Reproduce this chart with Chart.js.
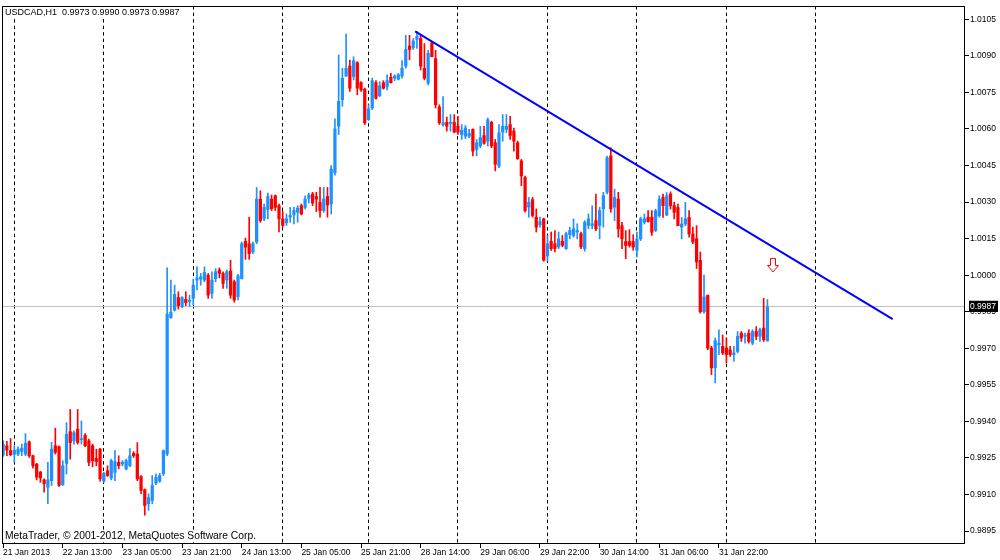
<!DOCTYPE html>
<html>
<head>
<meta charset="utf-8">
<title>USDCAD,H1</title>
<script src="https://cdn.jsdelivr.net/npm/chart.js@4.4.1/dist/chart.umd.min.js"></script>
<style>
  html, body { margin: 0; padding: 0; background: #fff; }
  #wrap { width: 1000px; height: 560px; }
</style>
</head>
<body>
<div id="wrap"><canvas id="chart" width="1000" height="560"></canvas></div>
<script>
const symbol = 'USDCAD';
const period = 'H1';

// hourly bars, bar 0 = 21 Jan 2013 21:00
const opens = [
  0.99262, 0.99300, 0.99280, 0.99265, 0.99266, 0.99277, 0.99266, 0.99316, 0.99259, 0.99225,
  0.99192, 0.99160, 0.99130, 0.99157, 0.99300, 0.99296, 0.99140, 0.99228, 0.99358, 0.99320,
  0.99368, 0.99325, 0.99343, 0.99320, 0.99300, 0.99248, 0.99286, 0.99155, 0.99198, 0.99168,
  0.99191, 0.99232, 0.99225, 0.99205, 0.99218, 0.99269, 0.99266, 0.99174, 0.99120, 0.99062,
  0.99076, 0.99147, 0.99155, 0.99185, 0.99266, 0.99826, 0.99857, 0.99908, 0.99871, 0.99901,
  0.99892, 0.99905, 0.99980, 0.99984, 0.99980, 1.00000, 0.99925, 0.99986, 1.00021, 1.00007,
  0.99980, 1.00017, 0.99973, 0.99912, 0.99986, 1.00139, 1.00129, 1.00095, 1.00136, 1.00312,
  1.00231, 1.00269, 1.00312, 1.00326, 1.00285, 1.00231, 1.00215, 1.00238, 1.00247, 1.00258,
  1.00285, 1.00278, 1.00315, 1.00333, 1.00323, 1.00299, 1.00265, 1.00323, 1.00292, 1.00420,
  1.00611, 1.00720, 1.00817, 1.00858, 1.00815, 1.00872, 1.00790, 1.00763, 1.00638, 1.00686,
  1.00790, 1.00736, 1.00790, 1.00774, 1.00812, 1.00808, 1.00804, 1.00817, 1.00858, 1.00940,
  1.00934, 1.00967, 1.00971, 1.00849, 1.00788, 1.00953, 1.00889, 1.00690, 1.00618, 1.00627,
  1.00622, 1.00627, 1.00611, 1.00577, 1.00570, 1.00570, 1.00598, 1.00516, 1.00530, 1.00573,
  1.00550, 1.00627, 1.00543, 1.00448, 1.00587, 1.00598, 1.00618, 1.00591, 1.00543, 1.00469,
  1.00401, 1.00279, 1.00310, 1.00238, 1.00207, 1.00231, 1.00079, 1.00139, 1.00129, 1.00116,
  1.00139, 1.00109, 1.00166, 1.00163, 1.00177, 1.00170, 1.00109, 1.00204, 1.00204, 1.00224,
  1.00204, 1.00272, 1.00340, 1.00489, 1.00279, 1.00312, 1.00203, 1.00138, 1.00138, 1.00138,
  1.00102, 1.00149, 1.00217, 1.00238, 1.00238, 1.00183, 1.00244, 1.00319, 1.00247, 1.00333,
  1.00285, 1.00278, 1.00197, 1.00210, 1.00237, 1.00169, 1.00149, 1.00061, 0.99850, 0.99918,
  0.99701, 0.99620, 0.99714, 0.99708, 0.99701, 0.99694, 0.99674, 0.99687, 0.99762, 0.99749,
  0.99762, 0.99721, 0.99769, 0.99749, 0.99783, 0.9973
];
const highs = [
  0.99320, 0.99318, 0.99330, 0.99300, 0.99296, 0.99307, 0.99350, 0.99320, 0.99262, 0.99228,
  0.99195, 0.99164, 0.99232, 0.99314, 0.99372, 0.99300, 0.99239, 0.99395, 0.99449, 0.99361,
  0.99449, 0.99402, 0.99350, 0.99327, 0.99307, 0.99286, 0.99290, 0.99191, 0.99218, 0.99245,
  0.99280, 0.99259, 0.99239, 0.99245, 0.99289, 0.99276, 0.99313, 0.99178, 0.99123, 0.99103,
  0.99178, 0.99185, 0.99187, 0.99283, 1.00030, 0.99980, 0.99959, 0.99932, 0.99912, 0.99932,
  0.99918, 0.99984, 1.00034, 1.00007, 1.00034, 1.00007, 1.00014, 1.00027, 1.00030, 1.00014,
  1.00021, 1.00061, 0.99980, 1.00003, 1.00136, 1.00152, 1.00238, 1.00136, 1.00360, 1.00346,
  1.00292, 1.00337, 1.00329, 1.00329, 1.00292, 1.00261, 1.00251, 1.00278, 1.00278, 1.00285,
  1.00292, 1.00326, 1.00337, 1.00340, 1.00340, 1.00360, 1.00360, 1.00360, 1.00450, 1.00641,
  1.00903, 1.00849, 1.00989, 1.00883, 1.00896, 1.00876, 1.00794, 1.00767, 1.00699, 1.00808,
  1.00798, 1.00794, 1.00798, 1.00822, 1.00828, 1.00822, 1.00828, 1.00880, 1.00984, 1.00984,
  1.00971, 1.01000, 1.00984, 1.00950, 1.00923, 1.00957, 1.00923, 1.00699, 1.00733, 1.00649,
  1.00659, 1.00659, 1.00652, 1.00618, 1.00614, 1.00598, 1.00600, 1.00557, 1.00611, 1.00611,
  1.00645, 1.00632, 1.00557, 1.00618, 1.00659, 1.00659, 1.00652, 1.00604, 1.00550, 1.00475,
  1.00407, 1.00319, 1.00319, 1.00272, 1.00238, 1.00234, 1.00163, 1.00177, 1.00183, 1.00177,
  1.00163, 1.00177, 1.00197, 1.00231, 1.00211, 1.00177, 1.00224, 1.00251, 1.00285, 1.00333,
  1.00279, 1.00340, 1.00489, 1.00523, 1.00353, 1.00340, 1.00217, 1.00183, 1.00187, 1.00166,
  1.00177, 1.00238, 1.00251, 1.00265, 1.00265, 1.00271, 1.00326, 1.00333, 1.00339, 1.00342,
  1.00299, 1.00292, 1.00237, 1.00299, 1.00265, 1.00197, 1.00203, 1.00095, 1.00000, 0.99918,
  0.99708, 0.99742, 0.99776, 0.99755, 0.99742, 0.99708, 0.99708, 0.99769, 0.99769, 0.99762,
  0.99776, 0.99776, 0.99789, 0.99783, 0.99905, 0.9990
];
const lows = [
  0.99256, 0.99259, 0.99259, 0.99232, 0.99259, 0.99259, 0.99259, 0.99252, 0.99208, 0.99160,
  0.99150, 0.99110, 0.99062, 0.99137, 0.99266, 0.99133, 0.99137, 0.99184, 0.99245, 0.99307,
  0.99307, 0.99307, 0.99296, 0.99218, 0.99214, 0.99218, 0.99155, 0.99150, 0.99174, 0.99160,
  0.99157, 0.99205, 0.99218, 0.99201, 0.99214, 0.99252, 0.99157, 0.99103, 0.99015, 0.99035,
  0.99062, 0.99140, 0.99150, 0.99178, 0.99259, 0.99823, 0.99853, 0.99861, 0.99867, 0.99875,
  0.99871, 0.99878, 0.99939, 0.99959, 0.99973, 0.99905, 0.99905, 0.99973, 0.99989, 0.99946,
  0.99946, 0.99905, 0.99889, 0.99898, 0.99984, 1.00065, 1.00065, 1.00088, 1.00129, 1.00217,
  1.00224, 1.00231, 1.00265, 1.00265, 1.00177, 1.00197, 1.00204, 1.00217, 1.00210, 1.00217,
  1.00247, 1.00272, 1.00296, 1.00285, 1.00261, 1.00238, 1.00258, 1.00238, 1.00251, 1.00410,
  1.00577, 1.00693, 1.00815, 1.00754, 1.00801, 1.00740, 1.00754, 1.00618, 1.00635, 1.00679,
  1.00722, 1.00733, 1.00763, 1.00760, 1.00788, 1.00798, 1.00801, 1.00808, 1.00849, 1.00883,
  1.00926, 1.00930, 1.00842, 1.00801, 1.00781, 1.00896, 1.00686, 1.00618, 1.00611, 1.00591,
  1.00591, 1.00584, 1.00577, 1.00557, 1.00560, 1.00564, 1.00489, 1.00489, 1.00523, 1.00537,
  1.00530, 1.00523, 1.00428, 1.00441, 1.00550, 1.00584, 1.00557, 1.00509, 1.00475, 1.00367,
  1.00258, 1.00238, 1.00238, 1.00177, 1.00197, 1.00057, 1.00057, 1.00102, 1.00095, 1.00109,
  1.00116, 1.00106, 1.00149, 1.00156, 1.00149, 1.00109, 1.00098, 1.00190, 1.00190, 1.00183,
  1.00149, 1.00197, 1.00333, 1.00258, 1.00224, 1.00156, 1.00109, 1.00068, 1.00115, 1.00102,
  1.00075, 1.00142, 1.00210, 1.00217, 1.00163, 1.00179, 1.00237, 1.00237, 1.00244, 1.00271,
  1.00231, 1.00203, 1.00149, 1.00203, 1.00156, 1.00129, 1.00027, 0.99844, 0.99844, 0.99694,
  0.99592, 0.99558, 0.99674, 0.99674, 0.99640, 0.99667, 0.99647, 0.99681, 0.99728, 0.99721,
  0.99721, 0.99714, 0.99735, 0.99728, 0.99728, 0.9973
];
const closes = [
  0.99306, 0.99282, 0.99263, 0.99282, 0.99286, 0.99290, 0.99310, 0.99259, 0.99218, 0.99171,
  0.99168, 0.99144, 0.99160, 0.99286, 0.99273, 0.99137, 0.99218, 0.99347, 0.99313, 0.99354,
  0.99313, 0.99328, 0.99300, 0.99232, 0.99239, 0.99235, 0.99164, 0.99187, 0.99178, 0.99239,
  0.99235, 0.99218, 0.99232, 0.99239, 0.99259, 0.99259, 0.99164, 0.99117, 0.99055, 0.99087,
  0.99137, 0.99171, 0.99178, 0.99280, 0.99840, 0.99848, 0.99921, 0.99875, 0.99908, 0.99887,
  0.99897, 0.99959, 0.99989, 0.99993, 1.00011, 0.99918, 0.99980, 1.00014, 1.00007, 0.99966,
  1.00014, 0.99918, 0.99898, 0.99997, 1.00129, 1.00115, 1.00088, 1.00129, 1.00312, 1.00224,
  1.00278, 1.00323, 1.00272, 1.00278, 1.00231, 1.00204, 1.00231, 1.00245, 1.00265, 1.00275,
  1.00251, 1.00312, 1.00329, 1.00296, 1.00312, 1.00265, 1.00312, 1.00288, 1.00435, 1.00600,
  1.00713, 1.00808, 1.00849, 1.00767, 1.00880, 1.00767, 1.00760, 1.00625, 1.00682, 1.00798,
  1.00726, 1.00777, 1.00767, 1.00798, 1.00790, 1.00817, 1.00822, 1.00849, 1.00926, 1.00926,
  1.00961, 1.00980, 1.00858, 1.00808, 1.00910, 1.00896, 1.00699, 1.00625, 1.00625, 1.00611,
  1.00627, 1.00587, 1.00587, 1.00595, 1.00604, 1.00581, 1.00509, 1.00543, 1.00564, 1.00541,
  1.00638, 1.00530, 1.00455, 1.00584, 1.00611, 1.00611, 1.00573, 1.00550, 1.00478, 1.00407,
  1.00265, 1.00299, 1.00245, 1.00197, 1.00220, 1.00061, 1.00129, 1.00109, 1.00109, 1.00149,
  1.00122, 1.00170, 1.00183, 1.00190, 1.00183, 1.00116, 1.00217, 1.00231, 1.00211, 1.00190,
  1.00265, 1.00326, 1.00482, 1.00272, 1.00319, 1.00190, 1.00149, 1.00122, 1.00122, 1.00115,
  1.00149, 1.00231, 1.00231, 1.00220, 1.00176, 1.00265, 1.00312, 1.00285, 1.00326, 1.00285,
  1.00258, 1.00203, 1.00210, 1.00231, 1.00169, 1.00136, 1.00054, 0.99850, 0.99911, 0.99701,
  0.99620, 0.99731, 0.99721, 0.99681, 0.99674, 0.99674, 0.99681, 0.99749, 0.99742, 0.99755,
  0.99728, 0.99769, 0.99749, 0.99776, 0.99735, 0.9987
];

const xLabelBars = [0, 16, 32, 48, 64, 80, 96, 112, 128, 144, 160, 176, 192];
const xLabels = ['21 Jan 2013', '22 Jan 13:00', '23 Jan 05:00', '23 Jan 21:00', '24 Jan 13:00',
  '25 Jan 05:00', '25 Jan 21:00', '28 Jan 14:00', '29 Jan 06:00', '29 Jan 22:00',
  '30 Jan 14:00', '31 Jan 06:00', '31 Jan 22:00'];
// bars where a new day starts (period separators), last one is in the empty future area
const dayStartBars = [3, 27, 51, 75, 98, 122, 146, 170, 194, 218];
const yTicks = [0.9895, 0.9910, 0.9925, 0.9940, 0.9955, 0.9970, 0.9985, 1.0000,
  1.0015, 1.0030, 1.0045, 1.0060, 1.0075, 1.0090, 1.0105];
const bidPrice = 0.9987;

// hand drawn objects
const trendBars = [110.5, 238.6];
const trendPrices = [1.0100, 0.9982];
const arrowBar = 206.5;
const arrowPrice = 1.0004;

const watermark = 'MetaTrader, \u00a9 2001-2012, MetaQuotes Software Corp.';

const BULL = '#1e90ff';
const BEAR = '#ff0000';
const FONT = "'Liberation Sans', Arial, sans-serif";
const X_MIN = -0.3, X_MAX = 258;
const Y_MIN = 0.98897, Y_MAX = 1.01104;

const last = opens.length - 1;
const header = `${symbol},${period}  ${opens[last].toFixed(4)} ${highs[last].toFixed(4)} ` +
  `${lows[last].toFixed(4)} ${closes[last].toFixed(4)}`;

const xTickBars = xLabelBars.concat(dayStartBars).sort((a, b) => a - b);

const candleColor = (ctx) => closes[ctx.dataIndex] >= opens[ctx.dataIndex] ? BULL : BEAR;
const isBid = (ctx) => ctx.tick && ctx.tick.value === bidPrice;
const isDay = (ctx) => ctx.tick && dayStartBars.includes(ctx.tick.value);

function downArrow() {
  const c = document.createElement('canvas');
  c.width = 12; c.height = 15;
  const g = c.getContext('2d');
  g.beginPath();
  g.moveTo(3.5, 0.5); g.lineTo(8.5, 0.5); g.lineTo(8.5, 7.5); g.lineTo(11.5, 7.5);
  g.lineTo(6, 14); g.lineTo(0.5, 7.5); g.lineTo(3.5, 7.5); g.closePath();
  g.fillStyle = '#fff';
  g.fill();
  g.strokeStyle = '#ff0000';
  g.lineWidth = 1;
  g.stroke();
  return c;
}

// text on a white patch, the way the terminal paints over the separators
function label(ctx, text, x, top, h) {
  const w = ctx.measureText(text).width;
  ctx.fillStyle = '#fff';
  ctx.fillRect(x - 1, top, w + 2, h);
  ctx.fillStyle = '#000';
  ctx.fillText(text, x, top + h / 2);
}

const mtDecor = {
  id: 'mtDecor',
  beforeDatasetsDraw(chart) {
    const { ctx, chartArea: a } = chart;
    ctx.save();
    ctx.font = '10.3px ' + FONT;
    ctx.textBaseline = 'middle';
    label(ctx, watermark, a.left + 3, a.bottom - 14, 12);
    ctx.restore();
  },
  afterDraw(chart) {
    const { ctx, chartArea: a } = chart;
    ctx.save();
    ctx.font = '9px ' + FONT;
    ctx.textBaseline = 'middle';
    label(ctx, header, a.left + 3, a.top + 1, 11);
    ctx.strokeStyle = '#000';
    ctx.lineWidth = 1;
    ctx.strokeRect(Math.round(a.left) + 0.5, Math.round(a.top) + 0.5,
      Math.round(a.right - a.left) - 1, Math.round(a.bottom - a.top) - 1);
    ctx.restore();
  }
};

new Chart(document.getElementById('chart'), {
  type: 'bar',
  data: {
    datasets: [
      {
        label: 'wick',
        data: opens.map((o, i) => ({ x: i, y: [lows[i], highs[i]] })),
        backgroundColor: candleColor,
        barThickness: 1,
        grouped: false,
        minBarLength: 1,
        order: 3,
      },
      {
        label: 'body',
        data: opens.map((o, i) => ({ x: i, y: [o, closes[i]] })),
        backgroundColor: candleColor,
        barThickness: 2.6,
        grouped: false,
        minBarLength: 1,
        order: 2,
      },
      {
        type: 'line',
        label: 'trend',
        data: trendBars.map((b, i) => ({ x: b, y: trendPrices[i] })),
        borderColor: '#0000ff',
        borderWidth: 2,
        pointRadius: 0,
        order: 1,
      },
      {
        type: 'line',
        label: 'arrow',
        data: [{ x: arrowBar, y: arrowPrice }],
        showLine: false,
        pointStyle: downArrow(),
        pointRadius: 6,
        order: 0,
      },
    ],
  },
  options: {
    responsive: false,
    animation: false,
    events: [],
    layout: { autoPadding: false, padding: { left: 2, top: 2, right: 0, bottom: 0 } },
    plugins: { legend: { display: false }, tooltip: { enabled: false } },
    scales: {
      x: {
        type: 'linear',
        position: 'bottom',
        min: X_MIN,
        max: X_MAX,
        offset: false,
        afterBuildTicks: (s) => { s.ticks = xTickBars.map((v) => ({ value: v })); },
        afterFit: (s) => { s.height = 16; },
        grid: {
          offset: false,
          drawOnChartArea: true,
          drawTicks: true,
          tickLength: 4,
          color: (c) => isDay(c) ? '#000' : 'rgba(0,0,0,0)',
          tickColor: (c) => isDay(c) ? 'rgba(0,0,0,0)' : '#000',
        },
        border: { display: false, dash: [3.5, 3] },
        ticks: {
          autoSkip: false,
          maxRotation: 0,
          align: 'start',
          padding: 0,
          color: '#000',
          font: { family: FONT, size: 8.5 },
          callback: (v) => {
            const k = xLabelBars.indexOf(v);
            return k < 0 ? '' : xLabels[k];
          },
        },
      },
      y: {
        type: 'linear',
        position: 'right',
        min: Y_MIN,
        max: Y_MAX,
        afterBuildTicks: (s) => {
          s.ticks = yTicks.map((v) => ({ value: v })).concat([{ value: bidPrice }]);
        },
        afterFit: (s) => { s.width = 35; },
        grid: {
          color: (c) => isBid(c) ? '#c0c0c0' : 'rgba(0,0,0,0)',
          tickColor: (c) => isBid(c) ? 'rgba(0,0,0,0)' : '#000',
          tickLength: 4,
        },
        border: { display: false },
        ticks: {
          autoSkip: false,
          padding: 1,
          color: (c) => isBid(c) ? '#fff' : '#000',
          showLabelBackdrop: (c) => isBid(c),
          backdropColor: '#000',
          backdropPadding: { left: 1, right: 2, top: 1, bottom: 0 },
          font: { family: FONT, size: 8.5 },
          callback: (v) => v.toFixed(4),
        },
      },
    },
  },
  plugins: [mtDecor],
});
</script>
</body>
</html>
